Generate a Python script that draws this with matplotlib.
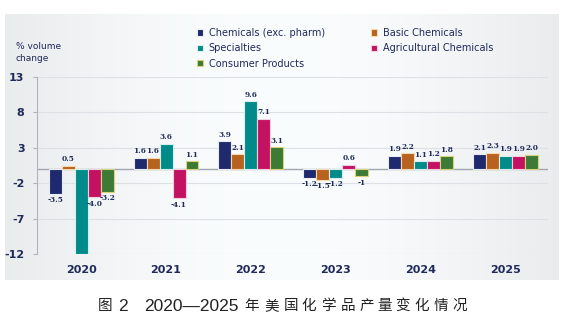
import matplotlib
matplotlib.use("Agg")
import matplotlib.pyplot as plt
import numpy as np

years = ["2020", "2021", "2022", "2023", "2024", "2025"]
series_names = ["Chemicals (exc. pharm)", "Basic Chemicals", "Specialties",
                "Agricultural Chemicals", "Consumer Products"]
chemicals = [-3.5, 1.6, 3.9, -1.2, 1.9, 2.1]
basic = [0.5, 1.6, 2.1, -1.5, 2.2, 2.3]
specialties = [-12.0, 3.6, 9.6, -1.2, 1.1, 1.9]
agricultural = [-4.0, -4.1, 7.1, 0.6, 1.2, 1.9]
consumer = [-3.2, 1.1, 3.1, -1.0, 1.8, 2.0]
labels_chem = ["-3.5", "1.6", "3.9", "-1.2", "1.9", "2.1"]
labels_basic = ["0.5", "1.6", "2.1", "-1.5", "2.2", "2.3"]
labels_spec = ["", "3.6", "9.6", "-1.2", "1.1", "1.9"]
labels_agri = ["-4.0", "-4.1", "7.1", "0.6", "1.2", "1.9"]
labels_cons = ["-3.2", "1.1", "3.1", "-1", "1.8", "2.0"]
yticks = [13, 8, 3, -2, -7, -12]
caption_parts = ["图", "2", "2020—2025", "年", "美", "国", "化", "学", "品",
                 "产", "量", "变", "化", "情", "况"]

colors = ["#1f2a6e", "#b8621f", "#008b8b", "#c41262", "#3d7a35"]
edges = ["#e8ecf5", "#f3d9b0", "#d8efee", "#f2d0dc", "#d9d27a"]
txtc = "#1f2a5a"

W, H = 567, 328
fig = plt.figure(figsize=(W/100, H/100), dpi=100)
fig.patch.set_facecolor("white")
# panel background
bg = fig.add_axes([5/W, 1-280/H, 554/W, 266/H], zorder=-5)
grad = np.linspace(0, 1, 256)
g = 0.925 + 0.065*np.sin(np.pi*grad)
img = np.dstack([g-0.01, g, g+0.005])
img = np.clip(np.repeat(img, 10, axis=0), 0, 1)
bg.imshow(img, aspect="auto", extent=[0, 1, 0, 1])
bg.set_axis_off()

ax = fig.add_axes([37/W, 1-254/H, (548-37)/W, (254-77)/H])
ax.set_facecolor("none")
x = np.arange(len(years))
w = 0.153
all_vals = [chemicals, basic, specialties, agricultural, consumer]
all_labels = [labels_chem, labels_basic, labels_spec, labels_agri, labels_cons]
for i, (vals, labs) in enumerate(zip(all_vals, all_labels)):
    xs = x + (i-2)*w
    ax.bar(xs, vals, width=w, color=colors[i], edgecolor=edges[i], linewidth=0.8,
           label=series_names[i], zorder=3)
    for xi, v, lab in zip(xs, vals, labs):
        if not lab:
            continue
        if v >= 0:
            ax.text(xi, v + 0.35, lab, ha="center", va="bottom", fontsize=5.3,
                    color=txtc, fontweight="bold", family="DejaVu Serif", zorder=4)
        else:
            ax.text(xi, v - 0.35, lab, ha="center", va="top", fontsize=5.3,
                    color=txtc, fontweight="bold", family="DejaVu Serif", zorder=4)

ax.set_ylim(-12, 13)
ax.set_xlim(-0.52, 5.5)
ax.set_yticks(yticks)
ax.set_yticklabels([str(t) for t in yticks], fontsize=8, fontweight="bold", color=txtc)
ax.set_xticks(x)
ax.set_xticklabels(years, fontsize=8, fontweight="bold", color=txtc)
ax.tick_params(axis="x", length=0, pad=8)
ax.tick_params(axis="y", length=3, color="#b0b4bc", pad=6)
for t in yticks:
    ax.axhline(t, color="#dde0e5", linewidth=0.8, zorder=1)
ax.axhline(0, color="#a0a6b0", linewidth=1.0, zorder=2)
for s in ["top", "right", "bottom"]:
    ax.spines[s].set_visible(False)
ax.spines["left"].set_color("#b0b4bc")

fig.text(16/W, 1-52.5/H, "% volume\nchange", fontsize=6.5, color=txtc,
         va="center", ha="left", linespacing=1.35)

handles, labs = ax.get_legend_handles_labels()
order = [0, 2, 4, 1, 3]
leg = fig.legend([handles[i] for i in order], [labs[i] for i in order],
                 loc="upper left", bbox_to_anchor=(197/W, 1-28/H), ncol=2,
                 frameon=False, fontsize=7, handlelength=0.6, handleheight=0.6,
                 columnspacing=4.8, labelspacing=0.55, handletextpad=0.6,
                 borderpad=0, borderaxespad=0)
for t in leg.get_texts():
    t.set_color(txtc)

# caption, laid out with the wide character spacing of the original
centers = [105, 123, 191, 252, 271.5, 291.5, 309, 328, 348, 367, 385, 403,
           422, 441, 460]
for part, cx in zip(caption_parts, centers):
    if part[0].isdigit():
        fig.text(cx/W, 1-306.5/H, part, ha="center", va="center", fontsize=12.5,
                 color="#222222", family=["Liberation Sans", "DejaVu Sans"])
    else:
        fig.text(cx/W, 1-306/H, part, ha="center", va="center", fontsize=10.5,
                 color="#222222", family=["Noto Sans CJK SC", "DejaVu Sans"])

fig.savefig("out.png", dpi=100)
